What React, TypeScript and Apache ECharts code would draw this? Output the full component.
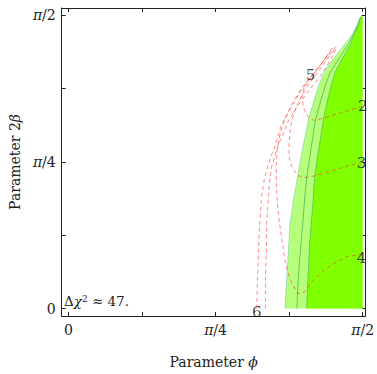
import React, { useEffect, useRef } from "react";
import * as echarts from "echarts";

const PI = Math.PI;
const HALF = PI / 2;

// axis ticks / labels
const tickValues = [0, PI / 8, PI / 4, (3 * PI) / 8, PI / 2];
const labelValues = [0, PI / 4, PI / 2];
const labelTexts = ["0", "{i|π}/4", "{i|π}/2"];

// allowed-region boundaries [phi, 2beta]
const outerBoundary: number[][] = [
  [1.157, 0], [1.162, 0.105], [1.173, 0.279], [1.183, 0.453], [1.204, 0.596],
  [1.225, 0.712], [1.241, 0.807], [1.262, 0.912], [1.283, 1.017], [1.304, 1.086],
  [1.33, 1.176], [1.366, 1.265], [1.403, 1.323], [1.435, 1.36], [1.466, 1.402],
  [1.497, 1.439], [1.524, 1.481], [1.545, 1.523], [1.56, 1.56], [1.571, 1.571],
];
const middleBoundary: number[][] = [
  [1.22, 0], [1.225, 0.121], [1.236, 0.279], [1.251, 0.453], [1.262, 0.596],
  [1.272, 0.701], [1.288, 0.807], [1.304, 0.912], [1.319, 1.007], [1.34, 1.086],
  [1.366, 1.176], [1.398, 1.265], [1.435, 1.323], [1.466, 1.371], [1.497, 1.418],
  [1.524, 1.471], [1.545, 1.518], [1.56, 1.56],
];
const innerBoundary: number[][] = [
  [1.272, 0], [1.277, 0.121], [1.288, 0.348], [1.304, 0.543], [1.314, 0.701],
  [1.33, 0.807], [1.346, 0.912], [1.361, 1.007], [1.377, 1.086], [1.398, 1.176],
  [1.424, 1.265], [1.455, 1.323], [1.482, 1.371], [1.508, 1.418], [1.529, 1.471],
  [1.55, 1.518], [1.56, 1.56], [1.571, 1.571],
];

// dashed curves
const curve2: number[][] = [
  [1.571, 1.081], [1.513, 1.065], [1.461, 1.049], [1.408, 1.033], [1.356, 1.017],
  [1.309, 1.007], [1.277, 1.028], [1.257, 1.07], [1.246, 1.123], [1.257, 1.176],
  [1.288, 1.228], [1.33, 1.281], [1.372, 1.339], [1.414, 1.402],
];
const curve3: number[][] = [
  [1.571, 0.78], [1.513, 0.77], [1.461, 0.754], [1.408, 0.738], [1.356, 0.722],
  [1.298, 0.706], [1.257, 0.701], [1.225, 0.712], [1.194, 0.754], [1.178, 0.807],
  [1.178, 0.875], [1.183, 0.946], [1.194, 1.012], [1.215, 1.075], [1.246, 1.139],
  [1.288, 1.207], [1.335, 1.27], [1.382, 1.334], [1.424, 1.392],
];
const curve4: number[][] = [
  [1.571, 0.29], [1.487, 0.279], [1.419, 0.242], [1.346, 0.19], [1.293, 0.137],
  [1.262, 0.09], [1.225, 0.079], [1.183, 0.158], [1.157, 0.253], [1.141, 0.358],
  [1.126, 0.464], [1.115, 0.569], [1.11, 0.675], [1.11, 0.78], [1.115, 0.859],
  [1.131, 0.938], [1.157, 1.017], [1.194, 1.096], [1.236, 1.165], [1.283, 1.228],
  [1.335, 1.292], [1.387, 1.35], [1.429, 1.402],
];
const curve5: number[][] = [
  [1.005, 0], [1.01, 0.174], [1.016, 0.332], [1.021, 0.453], [1.031, 0.596],
  [1.047, 0.701], [1.068, 0.77], [1.084, 0.822], [1.105, 0.875], [1.12, 0.928],
  [1.136, 0.98], [1.157, 1.017], [1.183, 1.065], [1.209, 1.107], [1.23, 1.149],
  [1.257, 1.186], [1.288, 1.228], [1.319, 1.27], [1.361, 1.323], [1.398, 1.376],
];
const curve6: number[][] = [
  [1.052, 0], [1.052, 0.174], [1.058, 0.332], [1.058, 0.453], [1.068, 0.596],
  [1.073, 0.664], [1.084, 0.754], [1.099, 0.807], [1.12, 0.875], [1.147, 0.938],
  [1.173, 1.002], [1.204, 1.054], [1.236, 1.102], [1.267, 1.144], [1.304, 1.191],
  [1.346, 1.244], [1.382, 1.302], [1.414, 1.36], [1.435, 1.402],
];
const dashedCurves = [curve2, curve3, curve4, curve5, curve6];

// curve labels
const curveLabelNames = ["2", "3", "4", "5", "6"];
const curveLabelPos: number[][] = [
  [1.571, 1.081], [1.565, 0.78], [1.565, 0.269], [1.293, 1.249], [1.005, -0.016],
];

const FONT = "DejaVu Serif";

export default function App() {
  const ref = useRef<HTMLDivElement>(null);
  useEffect(() => {
    document.body.style.margin = "0";
    const chart = echarts.init(ref.current!, null, { renderer: "svg" });

    const polygonSeries = (boundary: number[][], color: string, z: number) => ({
      type: "custom",
      z,
      silent: true,
      data: [0],
      renderItem: (_params: any, api: any) => {
        const pts = boundary.map((p) => api.coord(p));
        pts.push(api.coord([HALF, HALF]));
        pts.push(api.coord([HALF, 0]));
        return {
          type: "polygon",
          shape: { points: pts },
          style: { fill: color, stroke: "none" },
        };
      },
    });

    const lineSeries = (d: number[][], color: string, width: number, z: number, dashed = false) => ({
      type: "line",
      data: d,
      z,
      showSymbol: false,
      symbol: "none",
      silent: true,
      lineStyle: { color, width, type: dashed ? [4, 3] : "solid" },
    });

    const axisLine = { show: true, onZero: false, lineStyle: { color: "#222", width: 1 } };
    const axisTick = { show: true, inside: true, length: 4, customValues: tickValues, lineStyle: { color: "#222" } };
    const xCommon = {
      type: "value",
      min: -0.036,
      max: HALF + 0.016,
      splitLine: { show: false },
      axisLine,
      axisTick,
    };
    const yCommon = {
      type: "value",
      min: -0.0395,
      max: HALF + 0.037,
      splitLine: { show: false },
      axisLine,
      axisTick,
    };
    const labelFmt = (v: number) => labelTexts[Math.round(v / (PI / 4))] ?? "";
    const richI = { i: { fontStyle: "italic", fontFamily: FONT, fontSize: 14, color: "#222" } };

    chart.setOption({
      animation: false,
      grid: { left: 59, right: 8, top: 8, bottom: 53.5 },
      xAxis: [
        {
          ...xCommon,
          position: "bottom",
          name: "Parameter {i|ϕ}",
          nameLocation: "middle",
          nameGap: 39,
          nameTextStyle: { fontFamily: FONT, fontSize: 14, color: "#222", rich: richI },
          axisLabel: {
            show: true,
            customValues: labelValues,
            formatter: labelFmt,
            margin: 7,
            fontFamily: FONT,
            fontSize: 14,
            color: "#222",
            rich: richI,
          },
        },
        { ...xCommon, position: "top", axisLabel: { show: false } },
      ],
      yAxis: [
        {
          ...yCommon,
          position: "left",
          name: "Parameter 2{i|β}",
          nameLocation: "middle",
          nameGap: 38,
          nameTextStyle: { fontFamily: FONT, fontSize: 14, color: "#222", rich: richI },
          axisLabel: {
            show: true,
            customValues: labelValues,
            formatter: labelFmt,
            margin: 6,
            fontFamily: FONT,
            fontSize: 14,
            color: "#222",
            rich: richI,
          },
        },
        { ...yCommon, position: "right", axisLabel: { show: false } },
      ],
      series: [
        polygonSeries(outerBoundary, "#b6ff7a", 1),
        polygonSeries(innerBoundary, "#80ff00", 2),
        lineSeries(outerBoundary.slice(0, -1), "#8fd8b0", 0.8, 3),
        lineSeries(middleBoundary, "#50b850", 0.8, 3),
        lineSeries(innerBoundary.slice(0, -1), "#5cc05c", 0.8, 3),
        ...dashedCurves.map((c) => lineSeries(c, "rgba(255,40,40,0.55)", 1, 4, true)),
        {
          type: "scatter",
          z: 5,
          silent: true,
          symbolSize: 1,
          itemStyle: { color: "rgba(0,0,0,0)" },
          data: curveLabelNames.map((n, i) => ({ name: n, value: curveLabelPos[i] })),
          label: {
            show: true,
            position: "inside",
            formatter: (p: any) => p.name,
            fontFamily: FONT,
            fontSize: 15,
            color: "#111",
          },
        },
      ],
      graphic: [
        {
          type: "text",
          left: 64,
          top: 294,
          z: 10,
          style: {
            text: "Δ{i|χ}{s|2} ≈ 47.",
            fontFamily: FONT,
            fontSize: 13.5,
            fill: "#222",
            rich: {
              i: { fontStyle: "italic", fontFamily: FONT, fontSize: 13.5, fill: "#222" },
              s: { fontFamily: FONT, fontSize: 9, fill: "#222", verticalAlign: "top", lineHeight: 14 },
            },
          },
        },
      ],
    });
    return () => chart.dispose();
  }, []);
  return <div ref={ref} style={{ width: 377, height: 374 }} />;
}
